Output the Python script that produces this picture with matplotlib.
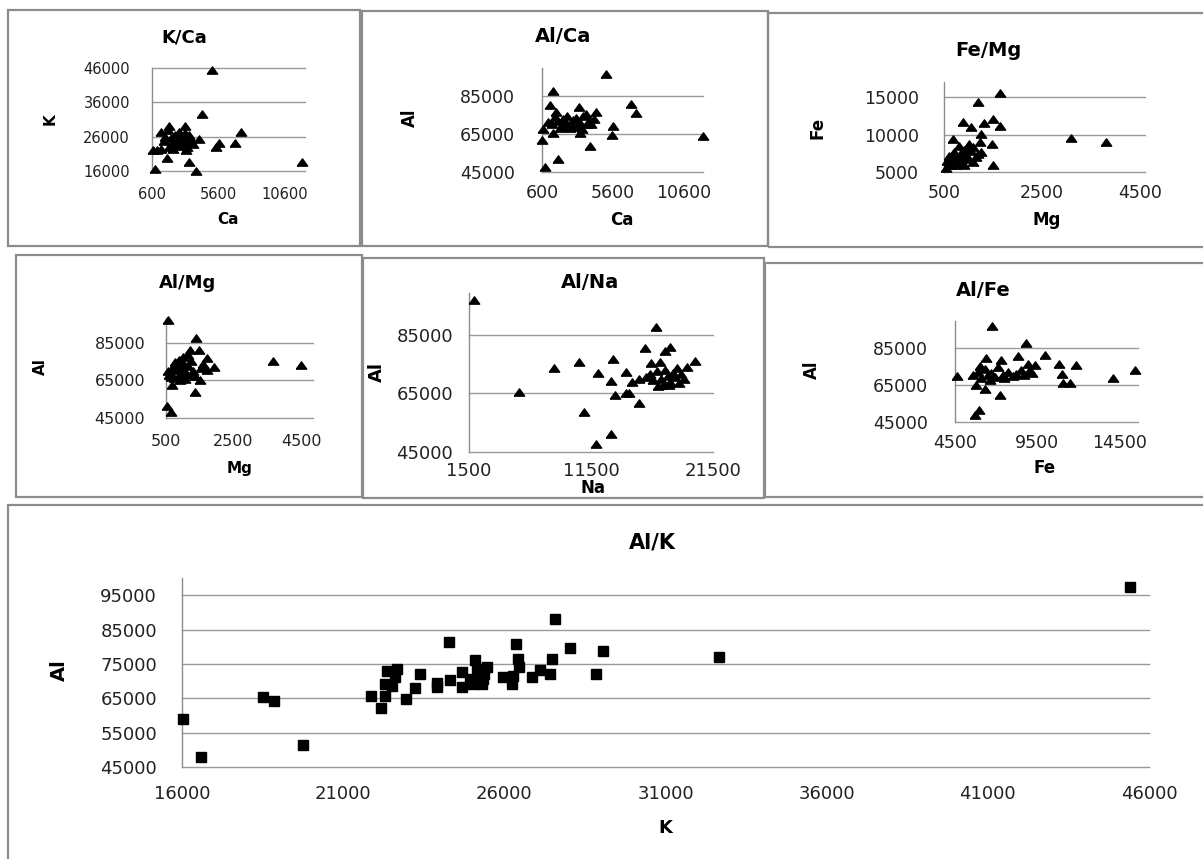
import matplotlib.pyplot as plt
from matplotlib.patches import Rectangle

W, H = 1203, 859

# K / Ca
ca_1 = [5100, 4350, 7300, 11900, 5600, 5400, 6850, 3900, 850, 3350, 1700, 650, 1000, 1300,
        1900, 3050, 1300, 4150, 3150, 1900, 2200, 2500, 2700, 2900, 3100, 2300, 2600, 3300,
        3500, 2000, 1600, 1500, 2400, 2800, 3200, 3700, 3000, 2100, 3400, 1800, 2600, 2900]
k_1 = [45400, 32650, 27500, 18700, 24300, 22900, 24300, 16040, 16600, 18500, 19750, 22100, 22200, 22300,
       29000, 29100, 27500, 25300, 22000, 22900, 22300, 24000, 25000, 26000, 27000, 26500, 27500, 24500,
       25200, 25500, 26000, 24800, 23500, 23300, 23000, 24000, 25500, 24200, 26500, 28000, 25300, 24600]

# Al / Ca
ca_2 = [5100, 1400, 1200, 6900, 7250, 12000, 5650, 5550, 4000, 1750, 800, 600, 650, 1400,
        3300, 3200, 4400, 4300, 1000, 1500, 1700, 2000, 2300, 2500, 2800, 3000, 3300, 3500,
        3800, 2100, 1600, 2600, 3100, 3700, 1300, 2400, 3900, 1900, 2700, 3400, 4100]
al_2 = [97000, 88000, 80300, 81200, 76300, 64000, 69400, 64500, 59000, 51800, 47900, 62000, 68000, 65400,
        65800, 79400, 76800, 72800, 71500, 74000, 72000, 70000, 71000, 69500, 72500, 73500, 71000, 74500,
        70500, 73000, 76500, 68500, 69000, 75500, 70500, 74500, 72000, 68500, 70000, 68000, 70500]

# Fe / Mg
mg_3 = [1650, 1200, 3100, 3800, 1500, 1640, 1320, 890, 1050, 1260, 680, 1230, 1470, 1500,
        550, 600, 650, 700, 750, 800, 850, 900, 950, 1000, 1050, 1100, 1150, 700,
        600, 800, 900, 1000, 1200, 750, 650, 1100, 950, 850, 560, 1250]
fe_3 = [15600, 14300, 9550, 9000, 12100, 11200, 11500, 11700, 11000, 10100, 9450, 9000, 8800, 6000,
        5600, 6200, 5900, 6600, 7000, 6400, 7500, 8000, 7200, 6800, 7800, 8300, 7000, 7700,
        7100, 8500, 6000, 8700, 7400, 6000, 6900, 6300, 7900, 6700, 6500, 7700]

# Al / Mg
mg_4 = [570, 1400, 520, 640, 3670, 4490, 1370, 1500, 670, 1200, 1470, 1720, 1920, 870,
        550, 600, 700, 750, 800, 850, 900, 950, 1000, 1050, 1100, 1150, 1250, 1300,
        1350, 1600, 1700, 650, 780, 1000, 1150, 900, 1250, 1550]
al_4 = [97000, 87600, 51100, 48200, 75400, 73100, 59000, 65200, 62500, 81000, 81300, 76600, 72200, 76000,
        70000, 68000, 72000, 66000, 70500, 73500, 68500, 71000, 74000, 65500, 69000, 72500, 75000, 70000,
        67000, 73500, 70500, 66500, 74500, 77500, 78500, 65000, 68000, 71500]

# Al / Na
na_5 = [1950, 5600, 8450, 10550, 10950, 11950, 13100, 12050, 13100, 13300, 13450, 14350, 14350, 14650,
        14850, 15400, 15450, 15900, 16850, 16450, 17150, 17550, 18000, 19400, 20000, 18550, 16000, 16300,
        16600, 16900, 17200, 17400, 17600, 17800, 18000, 18200, 18400, 18700, 18900, 19100, 17000, 17900]
al_5 = [97000, 65600, 73600, 75800, 58700, 47800, 51000, 71900, 69200, 76700, 64400, 72200, 65300, 65000,
        68800, 70100, 61800, 80400, 87600, 75500, 75900, 79500, 81000, 73900, 76100, 73600, 70500, 71500,
        69500, 72500, 70000, 68000, 73000, 71000, 69000, 72000, 70500, 68500, 71500, 70000, 67500, 67800]

# Al / Fe
fe_6 = [6750, 8800, 4600, 5700, 5950, 7250, 6300, 5750, 6400, 7300, 8350, 9950, 10800, 11850,
        11000, 11050, 11500, 14100, 15400, 9350, 8900, 5600, 5900, 6100, 6300, 6500, 6700, 6900,
        7100, 7400, 7700, 8000, 8200, 8500, 8700, 9000, 9200, 6600, 7500, 6000]
al_6 = [96500, 87500, 69600, 48600, 51700, 59400, 63000, 64800, 79600, 78200, 80700, 81200, 76400, 75900,
        71000, 66000, 66000, 68700, 72800, 75500, 76400, 70500, 72000, 68500, 73500, 70000, 71500, 69000,
        74500, 70500, 72000, 69500, 71000, 73000, 70000, 72500, 71500, 67500, 68500, 75000]

# Al / K
k_7 = [16040, 16600, 18500, 18850, 19750, 21850, 22170, 22300, 22300, 22350, 22500, 22600, 22660, 22950,
       23230, 23390, 23920, 23900, 24290, 24320, 24680, 24680, 24940, 25040, 25090, 25140, 25200, 25300,
       25350, 25450, 25380, 25970, 26230, 26280, 26360, 26410, 26460, 26850, 27110, 27420, 27470, 27580,
       28040, 28850, 29070, 32650, 45400]
al_7 = [59000, 47900, 65500, 64100, 51500, 65800, 62200, 65600, 69200, 72900, 68700, 71100, 73600, 64800,
        67900, 72100, 69300, 68300, 81400, 70200, 72600, 68200, 70700, 69200, 76000, 73600, 71000, 69200,
        70500, 74100, 72200, 71100, 69200, 71600, 80700, 76500, 74100, 71300, 73100, 72100, 76500, 88000,
        79700, 72100, 78900, 76900, 97400]

tri = [(-1, -0.7), (1, -0.7), (0, 0.7), (-1, -0.7)]

fig = plt.figure(figsize=(W / 100, H / 100), dpi=100)


def box(x0, y0, x1, y1):
    fig.patches.append(Rectangle((x0 / W, 1 - y1 / H), (x1 - x0) / W, (y1 - y0) / H,
                                 transform=fig.transFigure, fill=False, ec='#8c8c8c', lw=1.6))


def txt(x, y, s, size, rot=0):
    fig.text(x / W, 1 - y / H, s, ha='center', va='center', fontsize=size,
             fontweight='bold', rotation=rot)


def panel(l, r, t, b, x, y, xlim, ylim, xt, yt, fs, xpad, ypad, marker=tri, ms=7.5):
    ax = fig.add_axes([l / W, 1 - b / H, (r - l) / W, (b - t) / H])
    ax.plot(x, y, ls='none', marker=marker, ms=ms, color='black', clip_on=False, zorder=3)
    ax.set_xlim(xlim)
    ax.set_ylim(ylim)
    ax.set_xticks(xt)
    ax.set_yticks(yt)
    ax.set_xticklabels([str(v) for v in xt])
    ax.set_yticklabels([str(v) for v in yt])
    ax.grid(axis='y', color='#9a9a9a', lw=1.0)
    for gl in ax.get_ygridlines():
        gl.set_clip_on(False)
    ax.set_axisbelow(True)
    for s in ['top', 'right', 'bottom']:
        ax.spines[s].set_visible(False)
    ax.spines['left'].set_color('#8c8c8c')
    ax.spines['left'].set_linewidth(1.0)
    ax.tick_params(axis='x', length=0, pad=xpad, labelsize=fs, colors='#222222')
    ax.tick_params(axis='y', length=0, pad=ypad, labelsize=fs, colors='#222222')
    return ax


# frames
box(8, 10, 360, 246)
box(362, 11, 768, 246)
box(768, 13, 1210, 247)
box(16, 255, 362, 497)
box(363, 258, 764, 498)
box(765, 263, 1210, 497)
box(8, 505, 1210, 870)

# row 1
panel(152, 305, 68, 171, ca_1, k_1, (600, 12100), (16000, 46000),
      [600, 5600, 10600], [16000, 26000, 36000, 46000], 10.5, 11.5, 15.8)
txt(184, 37, 'K/Ca', 13)
txt(228, 220, 'Ca', 11)
txt(50, 119, 'K', 11, 90)

panel(542, 703, 68, 172, ca_2, al_2, (600, 12000), (45000, 100000),
      [600, 5600, 10600], [45000, 65000, 85000], 12.5, 8.6, 19.4)
txt(563, 37, 'Al/Ca', 14)
txt(622, 220, 'Ca', 12)
txt(410, 118, 'Al', 12, 90)

panel(944, 1145, 82, 172, mg_3, fe_3, (500, 4600), (5000, 17000),
      [500, 2500, 4500], [5000, 10000, 15000], 12.5, 8.5, 18)
txt(988, 50, 'Fe/Mg', 14)
txt(1047, 220, 'Mg', 12)
txt(818, 128, 'Fe', 12, 90)

# row 2
panel(166, 313, 318, 418, mg_4, al_4, (500, 4850), (45000, 98000),
      [500, 2500, 4500], [45000, 65000, 85000], 11.5, 11.3, 15)
txt(188, 283, 'Al/Mg', 13)
txt(240, 468, 'Mg', 11)
txt(40, 367, 'Al', 11, 90)

panel(469, 713, 293, 452, na_5, al_5, (1500, 21500), (45000, 99300),
      [1500, 11500, 21500], [45000, 65000, 85000], 13, 7.4, 11.5)
txt(590, 283, 'Al/Na', 14)
txt(593, 488, 'Na', 12)
txt(377, 372, 'Al', 13, 90)

panel(955, 1138, 321, 422, fe_6, al_6, (4500, 15600), (45000, 99300),
      [4500, 9500, 14500], [45000, 65000, 85000], 12.5, 8.8, 19.4)
txt(983, 290, 'Al/Fe', 14)
txt(1045, 468, 'Fe', 12)
txt(812, 370, 'Al', 12, 90)

# big chart
panel(182, 1149, 578, 767, k_7, al_7, (16000, 46000), (45000, 100000),
      [16000, 21000, 26000, 31000, 36000, 41000, 46000],
      [45000, 55000, 65000, 75000, 85000, 95000], 13, 13, 18, marker='s', ms=7.5)
txt(652, 542, 'Al/K', 15)
txt(665, 828, 'K', 13)
txt(59, 670, 'Al', 14, 90)

fig.savefig('out.png', dpi=100, facecolor='white')
